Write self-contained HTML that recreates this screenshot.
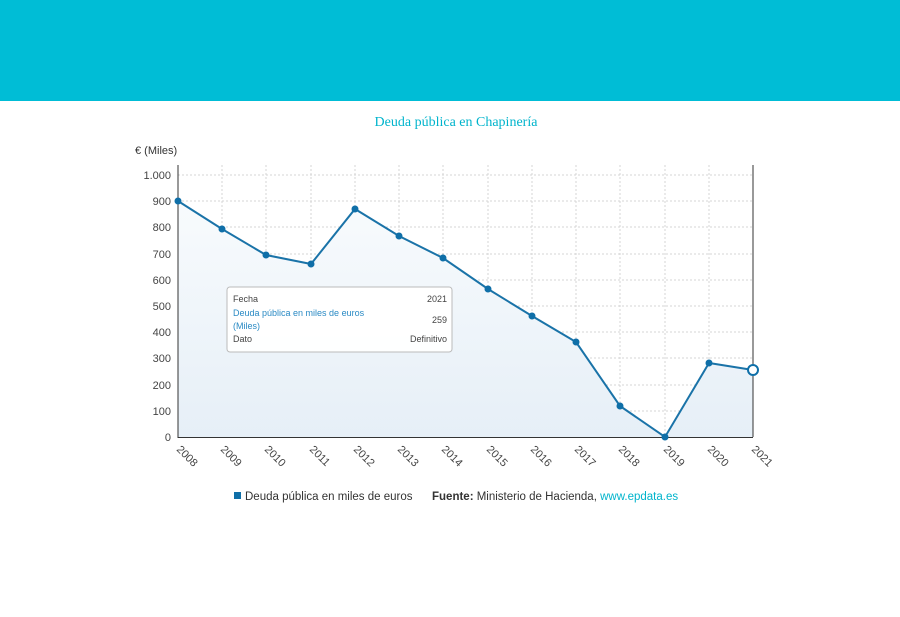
<!DOCTYPE html>
<html><head><meta charset="utf-8"><style>
body{margin:0;width:900px;height:617px;background:#fff;overflow:hidden;font-family:"Liberation Sans",sans-serif}
.hdr{position:absolute;left:0;top:0;width:900px;height:101px;background:#00bdd6}
</style></head><body>
<div class="hdr"></div>
<svg width="900" height="617" style="position:absolute;left:0;top:0">
<defs><linearGradient id="g" x1="0" y1="0" x2="0" y2="1"><stop offset="0" stop-color="#f8fbfd"/><stop offset="1" stop-color="#e6eff7"/></linearGradient></defs>
<text x="456" y="126" text-anchor="middle" font-family="Liberation Serif" font-size="14" fill="#00b4cc">Deuda pública en Chapinería</text>
<text x="135" y="154" font-size="11" fill="#333">€ (Miles)</text>
<g stroke="#d4d4d4" stroke-dasharray="2,2" stroke-width="1">
<line x1="178" x2="753" y1="175" y2="175"/><line x1="178" x2="753" y1="201" y2="201"/><line x1="178" x2="753" y1="227" y2="227"/><line x1="178" x2="753" y1="254" y2="254"/><line x1="178" x2="753" y1="280" y2="280"/><line x1="178" x2="753" y1="306" y2="306"/><line x1="178" x2="753" y1="332" y2="332"/><line x1="178" x2="753" y1="358" y2="358"/><line x1="178" x2="753" y1="385" y2="385"/><line x1="178" x2="753" y1="411" y2="411"/>
<line y1="165" y2="437" x1="222" x2="222"/><line y1="165" y2="437" x1="266" x2="266"/><line y1="165" y2="437" x1="311" x2="311"/><line y1="165" y2="437" x1="355" x2="355"/><line y1="165" y2="437" x1="399" x2="399"/><line y1="165" y2="437" x1="443" x2="443"/><line y1="165" y2="437" x1="488" x2="488"/><line y1="165" y2="437" x1="532" x2="532"/><line y1="165" y2="437" x1="576" x2="576"/><line y1="165" y2="437" x1="620" x2="620"/><line y1="165" y2="437" x1="665" x2="665"/><line y1="165" y2="437" x1="709" x2="709"/>
</g>
<polygon fill="url(#g)" points="178,437 178,201 222,229 266,255 311,264 355,209 399,236 443,258 488,289 532,316 576,342 620,406 665,437 709,363 753,370 753,437"/>
<line x1="178" y1="165" x2="178" y2="438" stroke="#333"/>
<line x1="178" y1="437.5" x2="753" y2="437.5" stroke="#333"/>
<line x1="753" y1="165" x2="753" y2="437" stroke="#333"/>
<g font-size="11" fill="#444" text-anchor="end">
<text x="171" y="179">1.000</text><text x="171" y="205">900</text><text x="171" y="231">800</text><text x="171" y="258">700</text><text x="171" y="284">600</text><text x="171" y="310">500</text><text x="171" y="336">400</text><text x="171" y="362">300</text><text x="171" y="389">200</text><text x="171" y="415">100</text><text x="171" y="441">0</text>
</g>
<g font-size="11" fill="#444">
<text transform="translate(176,450) rotate(45)">2008</text><text transform="translate(220,450) rotate(45)">2009</text><text transform="translate(264,450) rotate(45)">2010</text><text transform="translate(309,450) rotate(45)">2011</text><text transform="translate(353,450) rotate(45)">2012</text><text transform="translate(397,450) rotate(45)">2013</text><text transform="translate(441,450) rotate(45)">2014</text><text transform="translate(486,450) rotate(45)">2015</text><text transform="translate(530,450) rotate(45)">2016</text><text transform="translate(574,450) rotate(45)">2017</text><text transform="translate(618,450) rotate(45)">2018</text><text transform="translate(663,450) rotate(45)">2019</text><text transform="translate(707,450) rotate(45)">2020</text><text transform="translate(751,450) rotate(45)">2021</text>
</g>
<polyline fill="none" stroke="#1a73a8" stroke-width="2" points="178,201 222,229 266,255 311,264 355,209 399,236 443,258 488,289 532,316 576,342 620,406 665,437 709,363 753,370"/>
<g fill="#0f6fa8">
<circle cx="178" cy="201" r="3.5"/><circle cx="222" cy="229" r="3.5"/><circle cx="266" cy="255" r="3.5"/><circle cx="311" cy="264" r="3.5"/><circle cx="355" cy="209" r="3.5"/><circle cx="399" cy="236" r="3.5"/><circle cx="443" cy="258" r="3.5"/><circle cx="488" cy="289" r="3.5"/><circle cx="532" cy="316" r="3.5"/><circle cx="576" cy="342" r="3.5"/><circle cx="620" cy="406" r="3.5"/><circle cx="665" cy="437" r="3.5"/><circle cx="709" cy="363" r="3.5"/>
</g>
<circle cx="753" cy="370" r="5" fill="#fff" stroke="#0f6fa8" stroke-width="2"/>
<rect x="227" y="287" width="225" height="65" rx="3" fill="#fff" fill-opacity="0.95" stroke="#bbb"/>
<g font-size="9">
<text x="233" y="302" fill="#444">Fecha</text><text x="447" y="302" fill="#444" text-anchor="end">2021</text>
<text x="233" y="316" fill="#2a8ac4">Deuda pública en miles de euros</text>
<text x="233" y="329" fill="#2a8ac4">(Miles)</text><text x="447" y="323" fill="#444" text-anchor="end">259</text>
<text x="233" y="342" fill="#444">Dato</text><text x="447" y="342" fill="#444" text-anchor="end">Definitivo</text>
</g>
<rect x="234" y="492" width="7" height="7" fill="#0f6fa8"/>
<text x="245" y="500" font-size="11.5" fill="#333">Deuda pública en miles de euros</text>
<text x="432" y="500" font-size="11.5" fill="#333"><tspan font-weight="bold">Fuente:</tspan> Ministerio de Hacienda, <tspan fill="#00b4cc">www.epdata.es</tspan></text>
</svg>
</body></html>
